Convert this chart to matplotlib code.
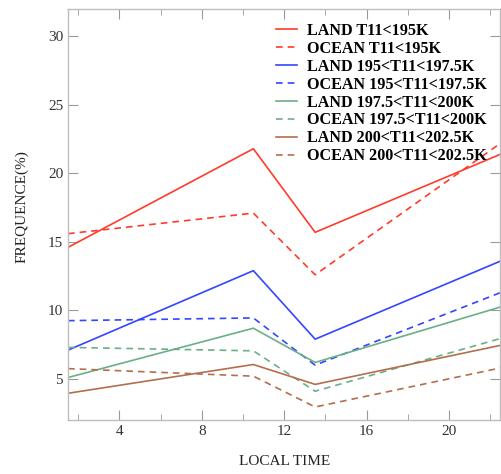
import matplotlib
matplotlib.use('Agg')
import matplotlib.pyplot as plt
from matplotlib.ticker import MultipleLocator

plt.rcParams['font.family'] = ['Liberation Serif', 'DejaVu Serif']

# local time of the samples
local_time = [1.5, 10.5, 13.5, 22.5]

# frequence (%)
land_195 = [14.6, 21.8, 15.7, 21.4]
ocean_195 = [15.6, 17.1, 12.6, 22.2]
land_1975 = [7.1, 12.9, 7.9, 13.6]
ocean_1975 = [9.25, 9.45, 6.0, 11.3]
land_200 = [5.1, 8.7, 6.2, 10.25]
ocean_200 = [7.3, 7.05, 4.1, 7.95]
land_2025 = [3.95, 6.05, 4.6, 7.45]
ocean_2025 = [5.75, 5.2, 2.95, 5.8]

labels = ['LAND T11<195K', 'OCEAN T11<195K',
          'LAND 195<T11<197.5K', 'OCEAN 195<T11<197.5K',
          'LAND 197.5<T11<200K', 'OCEAN 197.5<T11<200K',
          'LAND 200<T11<202.5K', 'OCEAN 200<T11<202.5K']

series = [land_195, ocean_195, land_1975, ocean_1975,
          land_200, ocean_200, land_2025, ocean_2025]
colors = ['#ff3b2a', '#ff3b2a', '#3346ff', '#3346ff',
          '#6aaf85', '#6aaf85', '#b36e4c', '#b36e4c']

fig = plt.figure(figsize=(5.02, 4.74), dpi=100)
ax = fig.add_axes([68 / 502, 1 - 420 / 474, 432.5 / 502, 411 / 474])

for i, (vals, lab, c) in enumerate(zip(series, labels, colors)):
    ls = '-' if i % 2 == 0 else (0, (4, 3))
    ax.plot(local_time, vals, color=c, lw=1.2, linestyle=ls, label=lab)

ax.set_xlim(1.5, 22.5)
ax.set_ylim(2, 32)
ax.xaxis.set_major_locator(MultipleLocator(4))
ax.xaxis.set_minor_locator(MultipleLocator(2))
ax.yaxis.set_major_locator(MultipleLocator(5))

for s in ax.spines.values():
    s.set_color('#bdbdbd')
    s.set_linewidth(1.0)
ax.tick_params(which='both', direction='in', top=True, right=True,
               color='#9a9a9a', labelsize=11, labelcolor='#333333')
ax.tick_params(which='major', length=7)
ax.tick_params(which='minor', length=4)

ax.set_xlabel('LOCAL TIME', fontsize=11, color='#222222', labelpad=12)
ax.set_ylabel('FREQUENCE(%)', fontsize=11, color='#222222')
ax.yaxis.set_label_coords(-0.092, 0.52)

leg = ax.legend(loc='upper right', bbox_to_anchor=(0.99, 0.99), frameon=False,
                prop={'weight': 'bold', 'size': 11.6}, handlelength=1.3,
                handletextpad=0.6, labelspacing=0.12, borderaxespad=0.2)

fig.savefig('out.png', dpi=100)
